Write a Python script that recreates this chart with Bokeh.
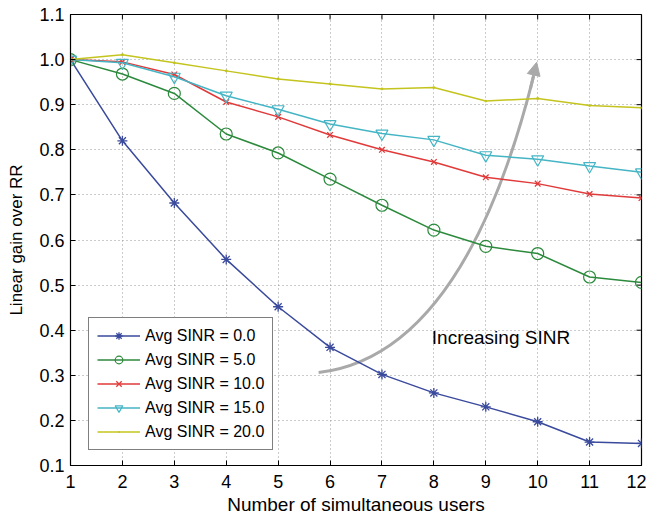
import numpy as np
from bokeh.plotting import figure
from bokeh.models import (Range1d, FixedTicker, Legend, LegendItem,
                          Arrow, NormalHead, Label, NumeralTickFormatter)
from bokeh.embed import file_html
from bokeh.resources import INLINE

users = [1, 2, 3, 4, 5, 6, 7, 8, 9, 10, 11, 12]
sinr_0 = [1.0, 0.82, 0.682, 0.557, 0.452, 0.362, 0.302, 0.261, 0.230, 0.197, 0.152, 0.149]
sinr_5 = [1.0, 0.968, 0.925, 0.835, 0.793, 0.735, 0.677, 0.622, 0.586, 0.570, 0.518, 0.506]
sinr_10 = [1.0, 0.995, 0.967, 0.906, 0.873, 0.833, 0.800, 0.773, 0.739, 0.725, 0.702, 0.693]
sinr_15 = [1.0, 0.993, 0.962, 0.920, 0.890, 0.857, 0.836, 0.822, 0.788, 0.779, 0.764, 0.750]
sinr_20 = [1.0, 1.011, 0.993, 0.975, 0.957, 0.946, 0.935, 0.938, 0.908, 0.914, 0.898, 0.893]
labels = ["Avg SINR = 0.0", "Avg SINR = 5.0", "Avg SINR = 10.0", "Avg SINR = 15.0", "Avg SINR = 20.0"]
x_ticks = list(range(1, 13))
y_ticks = [0.1, 0.2, 0.3, 0.4, 0.5, 0.6, 0.7, 0.8, 0.9, 1.0, 1.1]

FONT = "Liberation Sans"
W, H = 646, 518
BL, BR, BT, BB = 70, 5, 14, 53
X0, X1, Y0, Y1 = 1, 12, 0.1, 1.1

p = figure(width=W, height=H, output_backend="svg", toolbar_location=None,
           x_range=Range1d(X0, X1), y_range=Range1d(Y0, Y1),
           min_border_left=BL, min_border_right=BR, min_border_top=BT, min_border_bottom=BB)
p.outline_line_color = "black"
p.outline_line_width = 1.2
p.background_fill_color = "white"
p.border_fill_color = "white"

for ax in [p.xaxis[0], p.yaxis[0]]:
    ax.major_tick_in = 5
    ax.major_tick_out = 0
    ax.minor_tick_in = 0
    ax.minor_tick_out = 0
    ax.axis_line_color = "black"
    ax.major_label_text_font = FONT
    ax.major_label_text_font_size = "18px"
    ax.major_label_text_color = "black"
    ax.axis_label_text_font = FONT
    ax.axis_label_text_font_style = "normal"
    ax.axis_label_text_color = "black"
p.xaxis[0].ticker = FixedTicker(ticks=x_ticks)
p.yaxis[0].ticker = FixedTicker(ticks=y_ticks)
p.yaxis[0].formatter = NumeralTickFormatter(format="0.0")
p.xaxis[0].axis_label = "Number of simultaneous users"
p.yaxis[0].axis_label = "Linear gain over RR"
p.xaxis[0].axis_label_text_font_size = "19px"
p.yaxis[0].axis_label_text_font_size = "17px"
p.xaxis[0].major_label_standoff = 9
p.yaxis[0].major_label_standoff = 6
p.xaxis[0].axis_label_standoff = 3
p.yaxis[0].axis_label_standoff = 10

# inward ticks on top and right edges of the box
fw = W - BL - BR
fh = H - BT - BB
dx = 5 * (X1 - X0) / fw
dy = 5 * (Y1 - Y0) / fh
p.segment(x0=x_ticks, y0=[Y1] * len(x_ticks), x1=x_ticks, y1=[Y1 - dy] * len(x_ticks),
          line_color="black", line_width=1)
p.segment(x0=[X1] * len(y_ticks), y0=y_ticks, x1=[X1 - dx] * len(y_ticks), y1=y_ticks,
          line_color="black", line_width=1)

p.xgrid.ticker = FixedTicker(ticks=x_ticks)
p.ygrid.ticker = FixedTicker(ticks=y_ticks)
for g in [p.xgrid[0], p.ygrid[0]]:
    g.grid_line_color = "#999999"
    g.grid_line_dash = "1 3"
    g.grid_line_width = 1

# curved arrow
arrow_color = "#a9a9a9"
sx, sy = 5.78, 0.306
cx, cy = 8.57, 0.344
ex, ey = 9.92, 0.963
tipx, tipy = 9.98, 0.994
p.quadratic(x0=[sx], y0=[sy], x1=[ex], y1=[ey], cx=[cx], cy=[cy],
            line_color=arrow_color, line_width=3)
p.add_layout(Arrow(end=NormalHead(size=13, fill_color=arrow_color, line_color=arrow_color),
                   x_start=9.86, y_start=0.935, x_end=tipx, y_end=tipy,
                   line_color=arrow_color, line_width=3))
p.add_layout(Label(x=7.96, y=0.384, text="Increasing SINR", text_font=FONT,
                   text_font_size="19px", text_baseline="middle", text_color="black"))

colors = ["#3a4a9c", "#2c8a3c", "#e03a3a", "#45b5c5", "#c4c41e"]
series = [sinr_0, sinr_5, sinr_10, sinr_15, sinr_20]
markers = ["asterisk", "circle", "x", "inverted_triangle", "dot"]
sizes = [10, 12, 8, 12, 11]
items = []
for ys, c, m, s, lab in zip(series, colors, markers, sizes, labels):
    r1 = p.line(users, ys, line_color=c, line_width=1.5)
    if m in ("circle", "inverted_triangle"):
        r2 = p.scatter(users, ys, marker=m, size=s, line_color=c, fill_color=None, line_width=1.2)
    else:
        r2 = p.scatter(users, ys, marker=m, size=s, line_color=c, fill_color=c, line_width=1.3)
    items.append(LegendItem(label=lab, renderers=[r1, r2]))

legend = Legend(items=items, location=(18, 15), border_line_color="black", border_line_width=1.2,
                label_text_font=FONT, label_text_font_size="16px", glyph_width=43, glyph_height=19,
                spacing=5, padding=8, margin=0, label_standoff=5, background_fill_alpha=1,
                label_text_color="black")
p.add_layout(legend, "center")

open("out.html", "w").write(file_html(p, INLINE))
